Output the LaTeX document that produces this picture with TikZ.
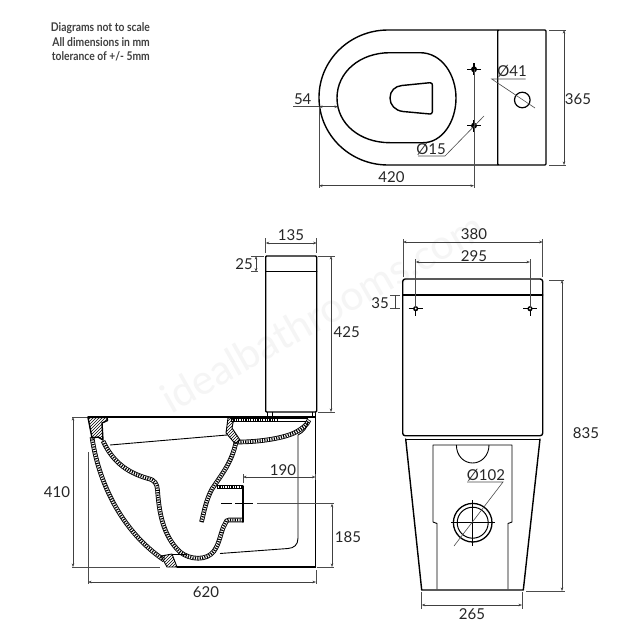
\documentclass[tikz,border=0pt]{standalone}
\usepackage{fontspec}
\setmainfont{Lato}
\usetikzlibrary{arrows.meta,patterns}
\tikzset{
 x=1pt,y=-1pt,
 body/.style={line width=1.4pt,black,line join=round,line cap=round},
 thin body/.style={line width=0.9pt,black,line join=round},
 ext/.style={line width=0.6pt,black!70},
 dimline/.style={line width=0.6pt,black!75,{Stealth[length=3.5pt,width=2.6pt]}-{Stealth[length=3.5pt,width=2.6pt]}},
 leader/.style={line width=0.6pt,black!70},
 wall/.style={preaction={draw,black,line width=4.6pt},preaction={draw,white,line width=2.8pt},draw,black,line width=2.8pt,dash pattern=on 1.1pt off 1.3pt},
 lab/.style={font=\fontsize{15}{16}\selectfont,text=black!85,inner sep=0pt},
 note/.style={font=\fontsize{12}{12}\selectfont\bfseries,text=black!75,inner sep=0pt,anchor=east},
}
\newcommand{\fixing}[2]{%
 \draw[line width=1pt] (#1-7,#2)--(#1+7,#2) (#1,#2-7)--(#1,#2+7);
 \fill (#1,#2) circle[radius=2.6pt];
 \fill[white] (#1,#2) circle[radius=1pt];}
\newcommand{\fixingheavy}[2]{%
 \draw[line width=1.5pt] (#1-7,#2)--(#1+7,#2) (#1,#2-6)--(#1,#2+6);
 \fill (#1,#2) circle[radius=3pt];}
\newcommand{\narrowtext}[1]{\scalebox{.86}[1]{#1}}
\begin{document}
\begin{tikzpicture}
\useasboundingbox (0,0) rectangle (640,640);
\fill[white] (0,0) rectangle (640,640);
\node[rotate=29.5,text=black!4,font=\fontsize{41}{42}\selectfont,inner sep=0pt] (wm) at (322,312) {idealbathrooms.com};
% notes
\node[note] (n1) at (150,28) {\narrowtext{Diagrams not to scale}};
\node[note] (n2) at (150,42) {\narrowtext{All dimensions in mm}};
\node[note] (n3) at (150,56) {\narrowtext{tolerance of +/- 5mm}};
% ---------- top view
\draw[body] (497.7,30) -- (388,30) .. controls (350,30) and (319,60) .. (319,97.5) .. controls (319,135) and (350,165) .. (388,165) -- (497.7,165);
\draw[body,rounded corners=1pt] (497.7,30) rectangle (546,165);
\draw[body] (337,98) .. controls (337,72) and (360,52.7) .. (390,52.7) -- (420,52.7) .. controls (442,52.7) and (456,75) .. (456,98) .. controls (456,122) and (442,142.7) .. (423,142.7) -- (390,142.7) .. controls (360,142.7) and (337,124) .. (337,98) -- cycle;
\draw[body] (390,98) .. controls (390,91) and (395,86) .. (402,85.5) -- (430,82.7) .. controls (432,82.7) and (432.3,84) .. (432.3,85) -- (432.3,112) .. controls (432.3,113.5) and (431,114) .. (430,114) -- (403,111.5) .. controls (395,110.5) and (390,105) .. (390,98) -- cycle;
\fixingheavy{474}{69.3}
\fixingheavy{474}{125.7}
\draw[line width=1.2pt] (522.3,100) circle[radius=7.8pt];
\draw[ext] (474,69) -- (474,188);
\draw[ext] (319,107) -- (319,188);
\draw[dimline] (319,185.7) -- (474,185.7);
\node[lab] (d420) at (391.5,177) {420};
\draw[ext] (293,106.7) -- (319,106.7);
\draw[dimline] (319,106.7) -- (338,106.7);
\node[lab] (d54) at (302.7,99) {54};
\draw[leader] (525.7,79) -- (491.7,79) -- (535,108);
\node[lab] (d41) at (512,71.5) {Ø41};
\draw[leader] (418,156) -- (445,156) -- (484,116);
\node[lab] (d15) at (431,149) {Ø15};
\draw[ext] (549.3,30) -- (566,30) (549.3,165) -- (566,165);
\draw[dimline] (564,30) -- (564,165);
\node[lab] (d365) at (578,99) {365};
% ---------- cistern side
\draw[body,rounded corners=1pt] (265.7,412) -- (265.7,256) -- (316.7,256) -- (316.7,412) -- cycle;
\draw[body] (265.7,271.7) -- (316.7,271.7);
\draw[ext] (265.7,238) -- (265.7,253) (316.7,238) -- (316.7,253);
\draw[dimline] (265.7,243) -- (316.7,243);
\node[lab] (d135) at (291,235) {135};
\draw[ext] (251,256) -- (264,256) (251,271.7) -- (258,271.7);
\draw[dimline] (256,256) -- (256,271.7);
\node[lab] (d25) at (244,264) {25};
\draw[ext] (318,256) -- (335,256) (318,412) -- (335,412);
\draw[dimline] (331,256) -- (331,412);
\node[lab] (d425) at (346.7,332) {425};
\draw[thin body] (267,412) -- (267,417) (272,412) -- (272,417) (312,412) -- (312,417) (315,412) -- (315,417);
% ---------- pan side
\draw[body] (88,417) -- (315.5,417) -- (315.5,567);
\draw[body] (177,567) -- (315.5,567);
\draw[ext] (72,567) -- (160,567);
\draw[ext] (72,417) -- (88,417);
\draw[dimline] (73,417) -- (73,567);
\node[lab] (d410) at (57,492) {410};
\draw[ext] (88,452) -- (88,584);
\draw[ext] (316,570) -- (316,584);
\draw[dimline] (88,582) -- (316,582);
\node[lab] (d620) at (206,592) {620};
% walls
\draw[wall] (92,437) .. controls (98,480) and (120,530) .. (164,560);
\draw[wall] (103,441) .. controls (112,460) and (125,472) .. (148,478.5) .. controls (155,480) and (157,484) .. (157.5,490) .. controls (159,510) and (162,535) .. (180,552) .. controls (190,560) and (207,561) .. (214,551) .. controls (220,543) and (221,530) .. (225,524) .. controls (226,521) and (227,520) .. (229,520) -- (243,520);
\draw[wall] (201.5,522) .. controls (204,512) and (206,500) .. (212,489) .. controls (222,474) and (232,462) .. (236,442);
\draw[wall] (217,487) -- (243,487);
\draw[wall] (231,420) -- (278,420);
\draw[wall] (238,442) .. controls (260,442) and (285,438) .. (296,432) .. controls (303,428) and (307,425) .. (309,420);
% rim blocks
\draw[body,fill=white,pattern=north east lines] (88,417.5) -- (107,417.5) -- (107.5,420.5) -- (102,423) -- (103,440) -- (98,437) -- (92,438) -- cycle;
\draw[thin body,pattern=north east lines] (228,418) -- (234,418) -- (232,428) -- (240,440) -- (235,443.5) -- (226,433) -- cycle;
\draw[thin body,pattern=north east lines] (161,556) -- (172,554) -- (177,567) -- (167,567) -- cycle;
\draw[thin body] (172,554) -- (186,554);
% bowl and cavity lines
\draw[thin body] (110,445) -- (227,435);
\draw[thin body] (278,418.5) -- (308,418.5) (278,421.5) -- (306,421.5);
\draw[body] (243,486) -- (243,522);
\draw[thin body] (298,435) -- (298,538) .. controls (298,545) and (294,548) .. (288,548.5) -- (220,553.5);
\draw[thin body] (308,422) .. controls (307,428) and (304,432) .. (298,435);
% outlet dimensions
\draw[line width=0.9pt,black] (221,503.7) -- (232,503.7) (235,503.7) -- (253,503.7);
\draw[ext] (257,503.7) -- (334,503.7);
\draw[ext] (243,474) -- (243,483) (315.5,474) -- (315.5,480);
\draw[dimline] (243,477) -- (315.5,477);
\node[lab] (d190) at (283,470.5) {190};
\draw[ext] (317,567) -- (334,567);
\draw[dimline] (332,503.7) -- (332,567);
\node[lab] (d185) at (348,537) {185};
% ---------- front view
\draw[body,rounded corners=2.5pt] (402.7,435.7) -- (402.7,279) -- (542.7,279) -- (542.7,435.7) -- cycle;
\draw[body] (402.7,295) -- (542.7,295);
\draw[thin body] (405.7,439) -- (540,439);
\draw[body] (405.7,439) -- (421.7,590) -- (523.3,590) -- (540,439);
\draw[thin body] (433,522) -- (433,445) -- (512,445) -- (512,522) -- (508,523.5) -- (508,589);
\draw[thin body] (433,522) -- (437,523.5) -- (437,589);
\draw[thin body] (456.4,445) .. controls (456.4,456) and (464,463) .. (472.7,463) .. controls (481,463) and (489,456) .. (489,445);
\fixing{415.7}{308.7}
\fixing{530}{308.7}
\draw[line width=1.3pt] (472.7,522.7) circle[radius=19.3pt];
\draw[line width=1pt] (472.7,522.7) circle[radius=15.5pt];
\draw[line width=0.9pt] (451,522.7) -- (495,522.7) (472.7,500) -- (472.7,546);
\draw[leader] (467,482) -- (503,482) -- (454,546);
\node[lab] (d102) at (486,475.5) {Ø102};
\draw[ext] (403,239) -- (403,277) (542.7,239) -- (542.7,277);
\draw[dimline] (403,242) -- (542.7,242);
\node[lab] (d380) at (474,234) {380};
\draw[ext] (415.7,259) -- (415.7,308) (530,259) -- (530,308);
\draw[dimline] (415.7,262) -- (530,262);
\node[lab] (d295) at (474,256) {295};
\draw[ext] (390,295) -- (400,295) (390,308.7) -- (400,308.7);
\draw[line width=0.6pt,black!75] (395.7,295) -- (395.7,308.7);
\node[lab] (d35) at (380,303) {35};
\draw[ext] (549,280) -- (564,280) (526,591) -- (565,591);
\draw[dimline] (562,280) -- (562,591);
\node[lab] (d835) at (586,433) {835};
\draw[ext] (421.7,592) -- (421.7,609) (522,592) -- (522,609);
\draw[dimline] (421.7,605) -- (522,605);
\node[lab] (d265) at (472,614) {265};
\end{tikzpicture}
\end{document}
